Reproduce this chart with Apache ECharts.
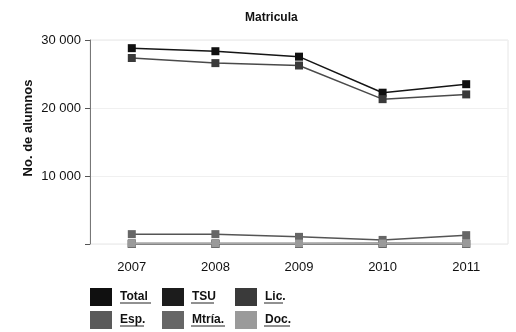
<!DOCTYPE html>
<html>
<head>
<meta charset="utf-8">
<script src="https://cdn.jsdelivr.net/npm/echarts@6/dist/echarts.min.js"></script>
<style>
  html, body { margin: 0; padding: 0; background: #fff; }
  #chart { width: 516px; height: 332px; }
</style>
</head>
<body>
<div id="chart"></div>
<script>
const years = ['2007', '2008', '2009', '2010', '2011']
const yTicks = [0, 10000, 20000, 30000]

const total = [28800, 28350, 27550, 22250, 23500]
const tsu = [0, 0, 0, 0, 0]
const lic = [27350, 26600, 26250, 21300, 22000]
const esp = [100, 100, 100, 150, 100]
const mtria = [1450, 1450, 1050, 600, 1300]
const doc = [60, 60, 60, 60, 60]

const names = ['Total', 'TSU', 'Lic.', 'Esp.', 'Mtría.', 'Doc.']
const values = [total, tsu, lic, esp, mtria, doc]
const colors = ['#101010', '#1c1c1c', '#3a3a3a', '#5a5a5a', '#666666', '#9a9a9a']
const lineColors = ['#151515', '#222', '#4a4a4a', '#8a8a8a', '#555', '#a8a8a8']

const font = 'Liberation Sans, Arial, sans-serif'

const chart = echarts.init(document.getElementById('chart'))

// one legend per column, two rows each
const legendCols = [90, 162, 235]
const legends = legendCols.map((x, c) => ({
  orient: 'vertical',
  left: x,
  top: 288,
  padding: 0,
  itemWidth: 22,
  itemHeight: 18,
  itemGap: 5,
  icon: 'rect',
  selectedMode: false,
  data: [names[c], names[c + 3]],
  formatter: '{a|{name}}',
  textStyle: {
    rich: {
      a: { padding: [0, 0, 0, 3], fontFamily: font, fontSize: 12, fontWeight: 'bold', color: '#111' }
    }
  }
}))

// underline of legend texts [x1, x2, y]
const underlines = [
  [120, 151, 303], [191, 214, 303], [264, 283, 303],
  [120, 144, 326], [191, 225, 326], [264, 290, 326]
]

chart.setOption({
  animation: false,
  color: colors,
  title: {
    text: 'Matricula',
    left: 240,
    top: 7,
    textStyle: { fontFamily: font, fontSize: 12, fontWeight: 'bold', color: '#111' }
  },
  legend: legends,
  grid: {
    left: 90, right: 8, top: 40, bottom: 88,
    show: true, borderColor: '#e6e6e6', borderWidth: 1
  },
  xAxis: {
    type: 'category',
    data: years,
    axisLine: { show: false },
    axisTick: { show: false },
    axisLabel: { fontFamily: font, fontSize: 13, color: '#111', margin: 17 },
    splitLine: { show: false }
  },
  yAxis: {
    type: 'value',
    min: yTicks[0],
    max: yTicks[yTicks.length - 1],
    interval: 10000,
    axisLine: { show: true, lineStyle: { color: '#777', width: 1 } },
    axisTick: { show: true, length: 5, lineStyle: { color: '#555' } },
    axisLabel: {
      fontFamily: font, fontSize: 13, color: '#111', margin: 9,
      formatter: v => v === 0 ? '' : String(v).replace(/(\d)(?=(\d{3})+$)/g, '$1 ')
    },
    splitLine: { show: true, lineStyle: { color: '#f0f0f0' } }
  },
  graphic: [
    {
      type: 'text',
      x: 28, y: 128,
      rotation: Math.PI / 2,
      style: {
        text: 'No. de alumnos',
        font: 'bold 13px ' + font,
        fill: '#111',
        textAlign: 'center',
        textVerticalAlign: 'middle'
      }
    }
  ].concat(underlines.map(u => ({
    type: 'line',
    shape: { x1: u[0], y1: u[2], x2: u[1], y2: u[2] },
    style: { stroke: '#222', lineWidth: 1 }
  }))),
  series: names.map((n, i) => ({
    name: n,
    type: 'line',
    data: values[i],
    symbol: 'rect',
    symbolSize: 8,
    z: i === 1 ? 1 : 2 + i,
    itemStyle: { color: colors[i] },
    lineStyle: { color: lineColors[i], width: 1.5 }
  }))
})
</script>
</body>
</html>
